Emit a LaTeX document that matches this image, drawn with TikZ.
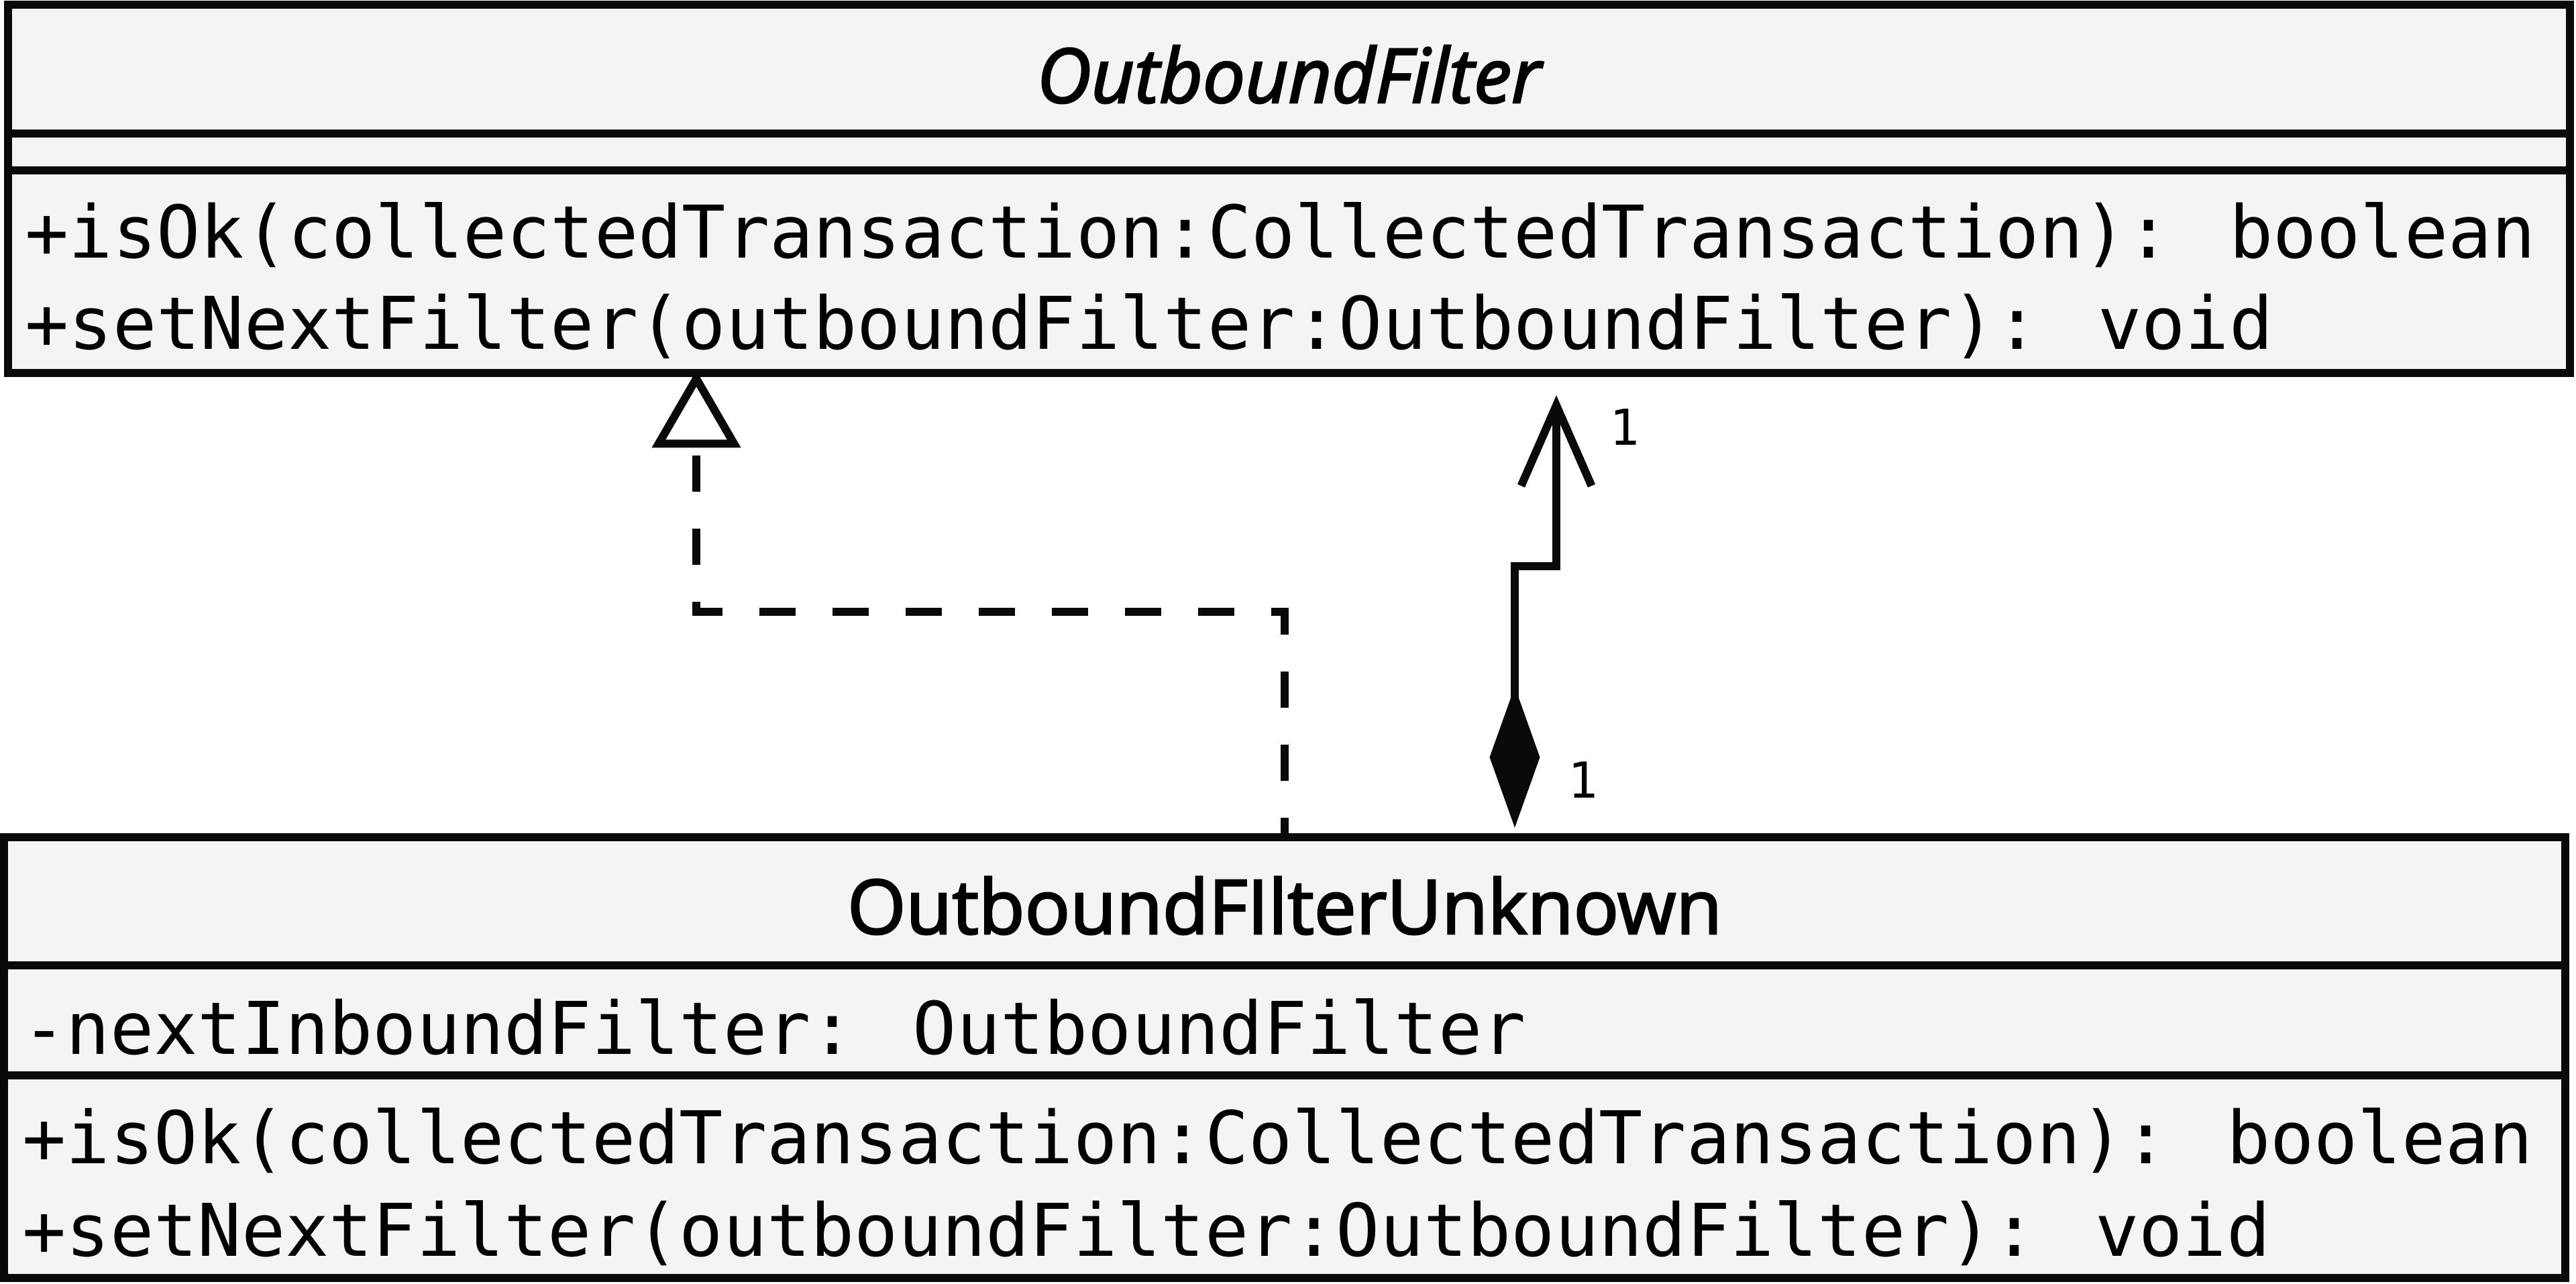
\documentclass[tikz,border=0pt]{standalone}
\usepackage{fontspec}
\setmainfont{Open Sans}
\newfontfamily\classfont{Open Sans}[FakeBold=2.5]
\newfontfamily\umlmono{DejaVu Sans Mono}
\usetikzlibrary{arrows.meta}
\definecolor{classgray}{RGB}{244,244,244}
\definecolor{umlblack}{RGB}{10,10,10}
\tikzset{
  classbox/.style={draw=umlblack, fill=classgray, line width=0.125cm, inner sep=0pt},
  classname/.style={anchor=base, inner sep=0pt, font=\classfont\fontsize{31.9}{38}\selectfont},
  member/.style={anchor=base west, inner sep=0pt, font=\umlmono\fontsize{30.85}{38}\selectfont},
  mult/.style={anchor=base, inner sep=0pt, font=\umlmono\fontsize{21}{25}\selectfont},
  realize/.style={umlblack, line width=0.12cm, dash pattern=on 0.54cm off 0.55cm, dash phase=0.31cm,
    -{Triangle[open, length=1.15cm, width=1.3cm]}},
  compose/.style={umlblack, line width=0.12cm,
    {Diamond[length=2.1cm, width=0.75cm]}-{Straight Barb[length=1.2cm, width=1.05cm]}}
}

\begin{document}
\begin{tikzpicture}
  \useasboundingbox (0,0) rectangle (38.4,-19.13);
  \node[classbox, minimum width=38.19cm, minimum height=5.49cm] (filter) at (19.215,-2.815) {};
  \node[classbox, minimum width=38.18cm, minimum height=6.57cm] (unknown) at (19.15,-15.765) {};
  \foreach \y in {1.99,2.54}
    \draw[umlblack, line width=0.125cm] (filter.west |- 0,-\y) -- (filter.east |- 0,-\y);
  \foreach \y in {14.39,16.03}
    \draw[umlblack, line width=0.125cm] (unknown.west |- 0,-\y) -- (unknown.east |- 0,-\y);
  \node[classname] (filtername) at (19.215,-1.53) {\itshape OutboundFilter};
  \node[member] (filterop1) at (0.37,-3.84) {+isOk(collectedTransaction:CollectedTransaction): boolean};
  \node[member] (filterop2) at (0.37,-5.20) {+setNextFilter(outboundFilter:OutboundFilter): void};
  \node[classname] (unknownname) at (19.15,-13.92) {OutboundFIlterUnknown};
  \node[member] (unknownattr) at (0.33,-15.71) {-nextInboundFilter: OutboundFilter};
  \node[member] (unknownop1) at (0.33,-17.34) {+isOk(collectedTransaction:CollectedTransaction): boolean};
  \node[member] (unknownop2) at (0.33,-18.72) {+setNextFilter(outboundFilter:OutboundFilter): void};
  \draw[realize] (unknown.north) -- ++(0,3.3) -| ([xshift=-8.835cm,yshift=0.1cm]filter.south);
  \draw[compose] ([xshift=3.43cm,yshift=0.08cm]unknown.north) -- ++(0,3.9)
    -| ([xshift=3.985cm,yshift=-0.27cm]filter.south);
  \node[mult] (multfilter) at (24.22,-6.63) {1};
  \node[mult] (multunknown) at (23.60,-11.89) {1};
\end{tikzpicture}
\end{document}
